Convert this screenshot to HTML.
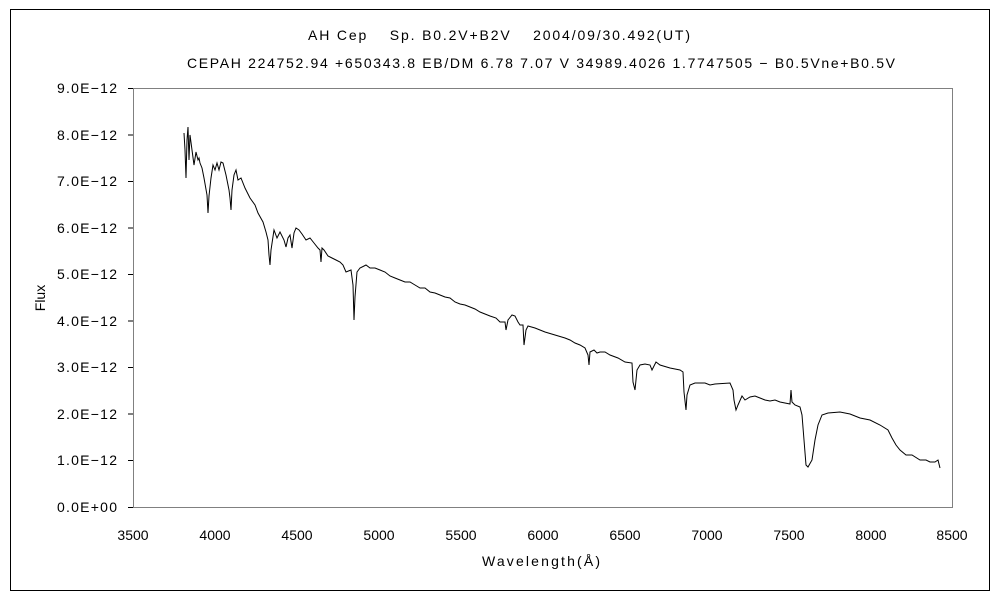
<!DOCTYPE html>
<html><head><meta charset="utf-8"><style>
body{margin:0;background:#fff;}
svg{display:block;font-family:"Liberation Sans","Noto Sans CJK JP",sans-serif;font-size:14px;}
</style></head><body>
<svg width="1000" height="600" xmlns="http://www.w3.org/2000/svg">
<rect x="0" y="0" width="1000" height="600" fill="#fff"/>
<rect x="10.5" y="9.5" width="979" height="581" fill="none" stroke="#000" stroke-width="1"/>
<rect x="133.5" y="88.5" width="819" height="419" fill="none" stroke="#808080" stroke-width="1"/>
<text x="308" y="40" textLength="382" lengthAdjust="spacing">AH Cep　 Sp. B0.2V+B2V　 2004/09/30.492(UT)</text>
<text x="187" y="68" textLength="708" lengthAdjust="spacing">CEPAH 224752.94 +650343.8 EB/DM 6.78 7.07 V 34989.4026 1.7747505 − B0.5Vne+B0.5V</text>
<g>
<text x="57" y="93" textLength="60">9.0E−12</text>
<text x="57" y="140" textLength="60">8.0E−12</text>
<text x="57" y="186" textLength="60">7.0E−12</text>
<text x="57" y="233" textLength="60">6.0E−12</text>
<text x="57" y="279" textLength="60">5.0E−12</text>
<text x="57" y="326" textLength="60">4.0E−12</text>
<text x="57" y="372" textLength="60">3.0E−12</text>
<text x="57" y="419" textLength="60">2.0E−12</text>
<text x="57" y="465" textLength="60">1.0E−12</text>
<text x="57" y="512" textLength="60">0.0E+00</text>
</g>
<g stroke="#000">
<line x1="128" y1="88.5" x2="133" y2="88.5"/><line x1="128" y1="135" x2="133" y2="135"/><line x1="128" y1="181.5" x2="133" y2="181.5"/><line x1="128" y1="228" x2="133" y2="228"/><line x1="128" y1="274.5" x2="133" y2="274.5"/><line x1="128" y1="321" x2="133" y2="321"/><line x1="128" y1="367.5" x2="133" y2="367.5"/><line x1="128" y1="414" x2="133" y2="414"/><line x1="128" y1="460.5" x2="133" y2="460.5"/><line x1="128" y1="507.5" x2="133" y2="507.5"/>
</g>
<g text-anchor="middle">
<text x="133" y="540">3500</text><text x="215" y="540">4000</text><text x="297" y="540">4500</text><text x="379" y="540">5000</text><text x="461" y="540">5500</text><text x="543" y="540">6000</text><text x="625" y="540">6500</text><text x="707" y="540">7000</text><text x="789" y="540">7500</text><text x="871" y="540">8000</text><text x="952" y="540">8500</text>
</g>
<text x="482" y="566" textLength="118">Wavelength(Å)</text>
<text x="45" y="298" text-anchor="middle" transform="rotate(-90 45 298)">Flux</text>
<polyline fill="none" stroke="#000" stroke-width="1" points="184,133 185,150 186,178 187,140 188,127 189,160 190,135 192,150 194,165 196,152 198,160 199,158 200,163 202,168 204,178 207,195 208,213 209,196 211,178 213,165 215,170 217,163 219,170 221,162 223,163 226,175 229,190 230,198 231,210 232,190 234,175 236,170 238,180 241,178 245,188 250,198 255,205 258,213 263,222 266,232 268,240 269,255 270,265 271,250 274,230 277,238 280,232 284,240 286,247 288,238 290,235 292,248 294,233 296,228 299,230 302,234 306,240 310,238 314,243 318,248 320,250 321,262 322,248 324,250 328,256 332,258 336,260 340,262 343,265 346,272 351,270 353,285 354,320 355,297 357,272 360,268 366,265 370,268 375,268 380,270 385,272 390,276 395,278 400,280 405,282 410,282 415,285 420,288 425,288 430,292 435,293 440,295 445,297 450,298 455,302 460,304 465,305 470,307 475,309 480,312 485,314 490,316 496,318 500,322 505,322 506,330 508,320 512,315 515,316 518,322 520,325 523,325 524,345 526,330 528,326 535,328 545,332 555,335 565,338 570,340 575,343 580,345 585,348 588,355 589,365 590,352 594,350 597,353 600,352 605,352 610,355 618,358 625,362 632,363 633,382 635,390 637,370 640,365 645,364 650,365 652,370 656,362 660,365 670,368 680,370 683,372 684,392 686,410 687,395 690,385 695,383 700,383 705,383 710,385 715,384 730,383 733,390 734,400 736,410 738,405 742,396 745,400 750,397 755,396 760,398 765,400 770,401 775,400 780,402 790,404 791,390 792,402 795,405 800,407 802,415 804,440 806,465 808,467 812,460 815,440 818,425 822,415 828,413 840,412 850,414 860,418 870,420 880,425 888,430 892,438 896,445 900,450 906,455 912,455 920,460 926,460 930,462 935,462 938,460 940,468"/>
</svg>
</body></html>
